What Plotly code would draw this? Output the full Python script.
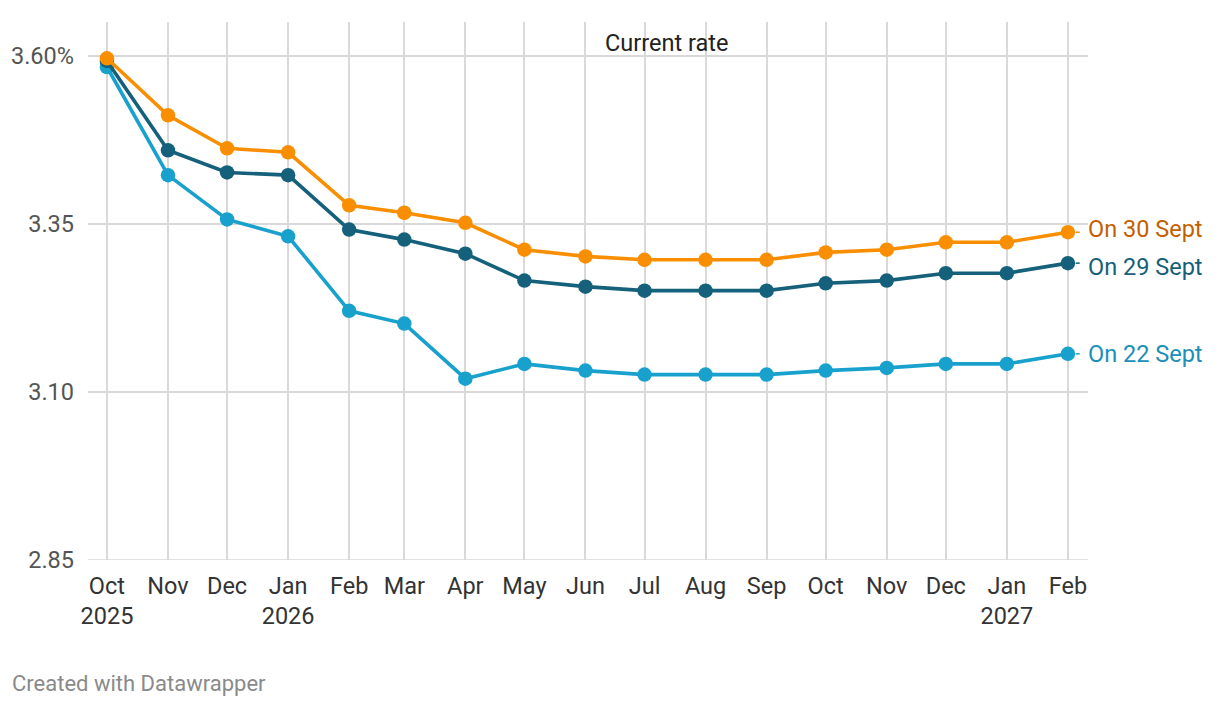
import plotly.graph_objects as go
import pandas as pd

months = ["2025-10-01", "2025-11-01", "2025-12-01", "2026-01-01", "2026-02-01", "2026-03-01",
          "2026-04-01", "2026-05-01", "2026-06-01", "2026-07-01", "2026-08-01", "2026-09-01",
          "2026-10-01", "2026-11-01", "2026-12-01", "2027-01-01", "2027-02-01"]
tick_labels = ["Oct<br>2025", "Nov", "Dec", "Jan<br>2026", "Feb", "Mar", "Apr", "May", "Jun",
               "Jul", "Aug", "Sep", "Oct", "Nov", "Dec", "Jan<br>2027", "Feb"]

on_30_sept = [3.597, 3.512, 3.463, 3.457, 3.378, 3.367, 3.352, 3.312, 3.302, 3.297, 3.297,
              3.297, 3.308, 3.312, 3.323, 3.323, 3.338]
on_29_sept = [3.593, 3.460, 3.427, 3.423, 3.342, 3.327, 3.306, 3.266, 3.257, 3.251, 3.251,
              3.251, 3.262, 3.266, 3.277, 3.277, 3.292]
on_22_sept = [3.584, 3.423, 3.357, 3.332, 3.221, 3.202, 3.120, 3.142, 3.132, 3.126, 3.126,
              3.126, 3.132, 3.136, 3.142, 3.142, 3.157]

y_ticks = [2.85, 3.10, 3.35, 3.60]
y_tick_text = ["2.85", "3.10", "3.35", "3.60%"]

series = [
    ("On 30 Sept", on_30_sept, "#f98f00", "#c45f00", 3),
    ("On 29 Sept", on_29_sept, "#15607a", "#15607a", -4),
    ("On 22 Sept", on_22_sept, "#18a1cd", "#1a8fb8", 0),
]

FONT = "Roboto"
x = pd.to_datetime(months)

fig = go.Figure()
for name, vals, color, lcolor, ysh in series[::-1]:
    fig.add_trace(go.Scatter(
        x=x, y=vals, mode="lines+markers", name=name,
        line=dict(color=color, width=3.6),
        marker=dict(color=color, size=14.5),
        hoverinfo="skip",
    ))

annotations = []
shapes = []
last_x = x[-1]
for name, vals, color, lcolor, ysh in series:
    annotations.append(dict(
        x=last_x, y=vals[-1], xref="x", yref="y", text=name, showarrow=False,
        xanchor="left", yanchor="middle", xshift=18, yshift=ysh,
        font=dict(family=FONT, size=23.5, color=lcolor),
    ))
    shapes.append(dict(
        type="line", xref="x", yref="y",
        x0=last_x + pd.Timedelta(days=4), x1=last_x + pd.Timedelta(days=6),
        y0=vals[-1], y1=vals[-1], line=dict(color=color, width=1.5),
    ))

annotations.append(dict(
    x=pd.Timestamp("2026-07-12"), y=3.60, xref="x", yref="y", text="Current rate",
    showarrow=False, xanchor="center", yanchor="bottom", yshift=-3,
    font=dict(family=FONT, size=23.5, color="#222222"),
))

# page has an 8px body margin; figure drawn at (8, 8)
W, H = 1212, 698
L, R, T, B = 80, 132, 14, 146
annotations.append(dict(
    x=(2 - L) / (W - L - R), y=(H - 675 - B) / (H - T - B),
    xref="paper", yref="paper", text="Created with Datawrapper",
    showarrow=False, xanchor="left", yanchor="middle",
    font=dict(family=FONT, size=22, color="#8a8a8a"),
))

fig.update_layout(
    width=W, height=H,
    margin=dict(l=L, r=R, t=T, b=B, autoexpand=False),
    paper_bgcolor="white", plot_bgcolor="white",
    showlegend=False,
    font=dict(family=FONT),
    annotations=annotations,
    shapes=shapes,
    xaxis=dict(
        type="date", automargin=False,
        range=[pd.Timestamp("2025-09-21 09:00"), pd.Timestamp("2027-02-11 05:00")],
        tickvals=x, ticktext=tick_labels,
        showgrid=True, gridcolor="#d9d9d9", gridwidth=1.5,
        zeroline=False, showline=False, ticks="",
        tickfont=dict(family=FONT, size=23.5, color="#333333"),
        ticklabelstandoff=9,
    ),
    yaxis=dict(
        automargin=False,
        range=[2.85, 3.651],
        tickvals=y_ticks, ticktext=y_tick_text,
        showgrid=True, gridcolor="#d9d9d9", gridwidth=1.5,
        zeroline=False, showline=False, ticks="",
        tickfont=dict(family=FONT, size=23.5, color="#555555"),
        ticklabelstandoff=13,
    ),
)
fig.add_shape(type="line", xref="paper", yref="y", x0=0, x1=1, y0=2.85, y1=2.85,
              line=dict(color="#d9d9d9", width=1.5), layer="below")

fig.write_html("out.html")
